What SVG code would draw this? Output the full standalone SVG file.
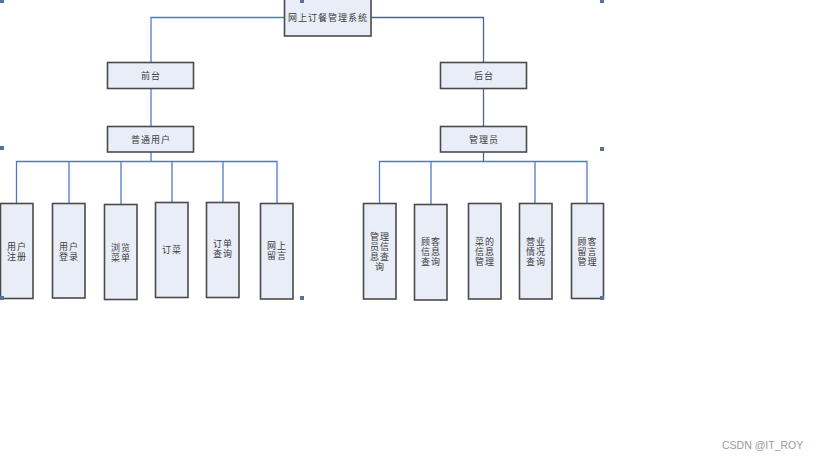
<svg xmlns="http://www.w3.org/2000/svg" width="819" height="460" viewBox="0 0 819 460">
  <style>
    .box { fill: #e8edf7; stroke: #4a4a4a; stroke-width: 1.6; }
    .lbl { font-family: "Noto Sans CJK SC", "Liberation Sans", sans-serif; font-size: 9px; fill: #3c3c3c; text-anchor: middle; letter-spacing: 1px; }
    .ln { fill: none; stroke: #4f7ac4; stroke-width: 1.3; }
    .ln2 { fill: none; stroke: #4a6498; stroke-width: 1.3; }
    .handle { fill: #56739e; }
    .mark { font-family: "Liberation Sans", Arial, sans-serif; font-size: 10.5px; fill: #9a9a9a; }
  </style>
  <rect width="819" height="460" fill="#ffffff"/>

  <!-- connectors -->
  <g id="connectors">
    <polyline class="ln" points="284,17.5 151,17.5 151,62"/>
    <polyline class="ln2" points="371,17.5 483.5,17.5 483.5,62"/>
    <line class="ln" x1="151" y1="88" x2="151" y2="126"/>
    <line class="ln2" x1="483.5" y1="88" x2="483.5" y2="126"/>
    <line class="ln" x1="151" y1="152" x2="151" y2="161.5"/>
    <line class="ln2" x1="483.5" y1="152" x2="483.5" y2="161.5"/>
    <!-- left branch -->
    <polyline class="ln" points="16.5,203 16.5,161.5 277,161.5 277,203"/>
    <line class="ln" x1="69" y1="161.5" x2="69" y2="203"/>
    <line class="ln" x1="121" y1="161.5" x2="121" y2="204"/>
    <line class="ln" x1="172" y1="161.5" x2="172" y2="202"/>
    <line class="ln" x1="223" y1="161.5" x2="223" y2="202"/>
    <!-- right branch -->
    <polyline class="ln" points="379.5,203 379.5,161.5 587,161.5 587,203"/>
    <line class="ln" x1="431" y1="161.5" x2="431" y2="204"/>
    <line class="ln" x1="535" y1="161.5" x2="535" y2="203"/>
  </g>

  <!-- top level -->
  <g id="system">
    <rect class="box" x="284.5" y="-1" width="86.5" height="37"/>
    <text class="lbl" x="328" y="21">网上订餐管理系统</text>
  </g>

  <g id="frontend">
    <rect class="box" x="107.5" y="62.5" width="86" height="26"/>
    <text class="lbl" x="151" y="79" letter-spacing="4">前台</text>
  </g>
  <g id="backend">
    <rect class="box" x="440.5" y="62.5" width="86" height="26"/>
    <text class="lbl" x="484" y="79" letter-spacing="4">后台</text>
  </g>

  <g id="user">
    <rect class="box" x="107.5" y="126.5" width="86" height="25.5"/>
    <text class="lbl" x="151" y="143" letter-spacing="2">普通用户</text>
  </g>
  <g id="admin">
    <rect class="box" x="440.5" y="126.5" width="86" height="25.5"/>
    <text class="lbl" x="484" y="143" letter-spacing="2">管理员</text>
  </g>

  <!-- user functions -->
  <g id="register">
    <rect class="box" x="0.5" y="203.5" width="32.5" height="95"/>
    <text class="lbl" x="17" y="250">用户</text>
    <text class="lbl" x="17" y="260">注册</text>
  </g>
  <g id="login">
    <rect class="box" x="52.5" y="203.5" width="32.5" height="94.5"/>
    <text class="lbl" x="69" y="250">用户</text>
    <text class="lbl" x="69" y="260">登录</text>
  </g>
  <g id="browse">
    <rect class="box" x="104.5" y="204.5" width="32.5" height="95"/>
    <text class="lbl" x="121" y="251">浏览</text>
    <text class="lbl" x="121" y="261">菜单</text>
  </g>
  <g id="order">
    <rect class="box" x="155.5" y="202.5" width="32.5" height="95"/>
    <text class="lbl" x="172" y="253">订菜</text>
  </g>
  <g id="query-order">
    <rect class="box" x="206.5" y="202.5" width="32.5" height="95"/>
    <text class="lbl" x="223" y="247">订单</text>
    <text class="lbl" x="223" y="257">查询</text>
  </g>
  <g id="message">
    <rect class="box" x="260.5" y="203.5" width="32.5" height="95.5"/>
    <text class="lbl" x="277" y="249">网上</text>
    <text class="lbl" x="277" y="259">留言</text>
  </g>

  <!-- admin functions -->
  <g id="admin-info">
    <rect class="box" x="363.5" y="203.5" width="32.5" height="95.5"/>
    <text class="lbl" x="380" y="240">管理</text>
    <text class="lbl" x="380" y="250">员信</text>
    <text class="lbl" x="380" y="260">息查</text>
    <text class="lbl" x="380" y="270">询</text>
  </g>
  <g id="customer-info">
    <rect class="box" x="414.5" y="204.5" width="32.5" height="95.5"/>
    <text class="lbl" x="431" y="245">顾客</text>
    <text class="lbl" x="431" y="255">信息</text>
    <text class="lbl" x="431" y="265">查询</text>
  </g>
  <g id="dish-info">
    <rect class="box" x="468.5" y="203.5" width="32.5" height="95.5"/>
    <text class="lbl" x="485" y="245">菜的</text>
    <text class="lbl" x="485" y="255">信息</text>
    <text class="lbl" x="485" y="265">管理</text>
  </g>
  <g id="business">
    <rect class="box" x="519.5" y="203.5" width="32.5" height="95.5"/>
    <text class="lbl" x="536" y="245">营业</text>
    <text class="lbl" x="536" y="255">情况</text>
    <text class="lbl" x="536" y="265">查询</text>
  </g>
  <g id="customer-message">
    <rect class="box" x="571.5" y="203.5" width="32" height="95"/>
    <text class="lbl" x="587.5" y="245">顾客</text>
    <text class="lbl" x="587.5" y="255">留言</text>
    <text class="lbl" x="587.5" y="265">管理</text>
  </g>

  <!-- selection handles -->
  <g id="handles">
    <rect class="handle" x="0" y="0" width="4" height="3"/>
    <rect class="handle" x="300" y="0" width="4" height="3"/>
    <rect class="handle" x="600" y="0" width="4" height="3"/>
    <rect class="handle" x="0" y="146" width="4" height="4"/>
    <rect class="handle" x="600" y="147" width="4" height="4"/>
    <rect class="handle" x="0" y="296" width="4" height="4"/>
    <rect class="handle" x="300" y="296" width="4" height="4"/>
    <rect class="handle" x="600" y="296" width="4" height="4"/>
  </g>

  <text class="mark" x="722" y="449">CSDN @IT_ROY</text>
</svg>
